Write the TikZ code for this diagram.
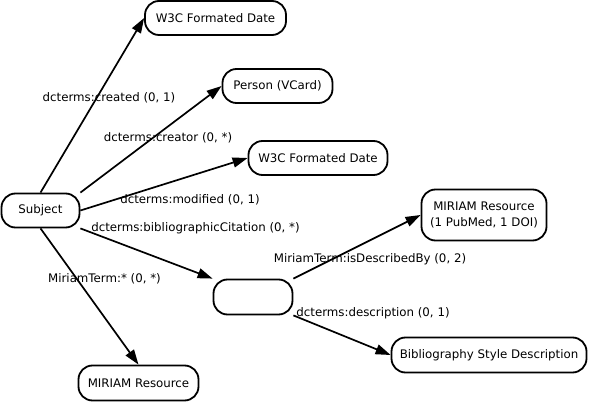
\documentclass[tikz,border=0pt]{standalone}
\usepackage{fontspec}
\setmainfont{DejaVu Sans}
\usetikzlibrary{arrows.meta}
\begin{document}
\begin{tikzpicture}[x=1pt,y=-1pt,
 box/.style={draw,line width=1.8pt,rounded corners=14pt,inner sep=0pt,font=\fontsize{11.8}{16}\selectfont,align=center},
 lab/.style={inner sep=0pt,font=\fontsize{11.8}{14}\selectfont},
 link/.style={line width=1.7pt,-{Triangle[length=15pt,width=10pt]}}]
\useasboundingbox (0,0) rectangle (589,403);
\node[box,minimum width=78pt,minimum height=34pt] (subj) at (40.5,210.5) {Subject};
\node[box,minimum width=141pt,minimum height=34pt] (w3ca) at (215.5,18) {W3C Formated Date};
\node[box,minimum width=110pt,minimum height=34pt] (person) at (277.5,86) {Person (VCard)};
\node[box,minimum width=139pt,minimum height=34pt] (w3cb) at (318,158) {W3C Formated Date};
\node[box,minimum width=125pt,minimum height=51pt] (mirb) at (484,215) {MIRIAM Resource\\(1 PubMed, 1 DOI)};
\node[box,minimum width=79pt,minimum height=35pt] (blank) at (253,297) {};
\node[box,minimum width=195pt,minimum height=35pt] (bib) at (489,355) {Bibliography Style Description};
\node[box,minimum width=120pt,minimum height=35pt] (mira) at (138.5,383) {MIRIAM Resource};
\draw[link] (subj.north) -- (w3ca.west);
\draw[link] (subj.north east) -- (person.west);
\draw[link] (subj.east) -- (w3cb.west);
\draw[link] (subj.south east) -- (blank.north west);
\draw[link] (subj.south) -- (mira.north);
\draw[link] (blank.north east) -- (mirb.west);
\draw[link] (blank.south east) -- (bib.west);
\node[lab] (l1) at (109,98) {dcterms:created (0, 1)};
\node[lab] (l2) at (168,138) {dcterms:creator (0, *)};
\node[lab] (l3) at (190,200) {dcterms:modified (0, 1)};
\node[lab] (l4) at (195.5,228) {dcterms:bibliographicCitation (0, *)};
\node[lab] (l5) at (104.5,279) {MiriamTerm:* (0, *)};
\node[lab] (l6) at (370,259) {MiriamTerm:isDescribedBy (0, 2)};
\node[lab] (l7) at (373,313) {dcterms:description (0, 1)};
\end{tikzpicture}
\end{document}
